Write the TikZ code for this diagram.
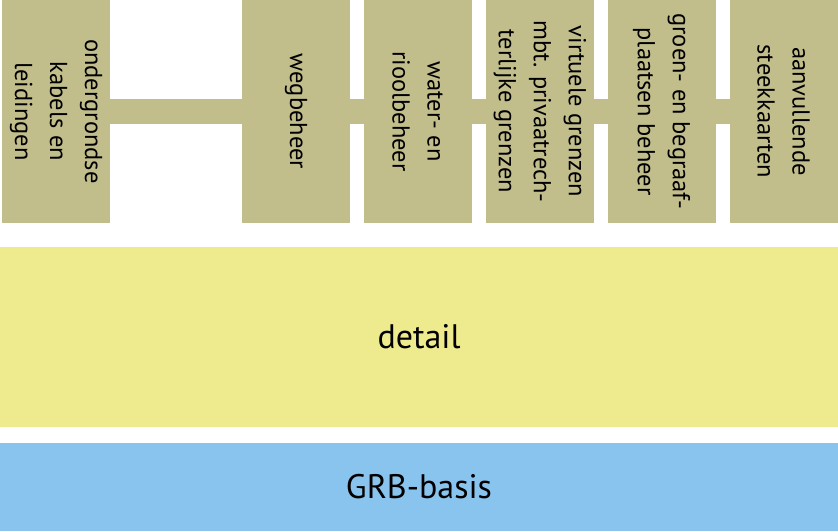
\documentclass[tikz,border=0pt]{standalone}
\usepackage{fontspec}
\setmainfont{PT Sans}
\definecolor{olivebox}{HTML}{C1BE8B}
\definecolor{detailyellow}{HTML}{EEEA8E}
\definecolor{basisblue}{HTML}{88C4EE}
\tikzset{
  topbox/.style={rectangle, fill=olivebox, inner sep=0pt, outer sep=0pt,
    rotate=-90, minimum width=223pt, minimum height=108pt, align=center,
    font=\fontsize{24.5}{35}\selectfont, text=black},
  band/.style={rectangle, inner sep=0pt, outer sep=0pt, minimum width=838pt,
    font=\fontsize{34}{40}\selectfont, text=black},
  linkbar/.style={draw=olivebox, line width=25pt}
}
\begin{document}
\begin{tikzpicture}[x=1pt, y=-1pt]
\useasboundingbox (0,0) rectangle (838,531);
\node[topbox] (b1) at (56,111.5) {ondergrondse\\kabels en\\leidingen};
\node[topbox] (b2) at (296,111.5) {wegbeheer};
\node[topbox] (b3) at (417.5,111.5) {water- en\\rioolbeheer};
\node[topbox] (b4) at (540,111.5) {virtuele grenzen\\mbt. privaatrech-\\terlijke grenzen};
\node[topbox] (b5) at (661.5,111.5) {groen- en begraaf-\\plaatsen beheer};
\node[topbox] (b6) at (783.5,111.5) {aanvullende\\steekkaarten};
\draw[linkbar] (b1) -- (b2);
\draw[linkbar] (b2) -- (b3);
\draw[linkbar] (b3) -- (b4);
\draw[linkbar] (b4) -- (b5);
\draw[linkbar] (b5) -- (b6);
\node[band, fill=detailyellow, minimum height=180pt] (detail) at (419,337) {detail};
\node[band, fill=basisblue, minimum height=88pt] (basis) at (419,487) {GRB-basis};
\end{tikzpicture}
\end{document}
